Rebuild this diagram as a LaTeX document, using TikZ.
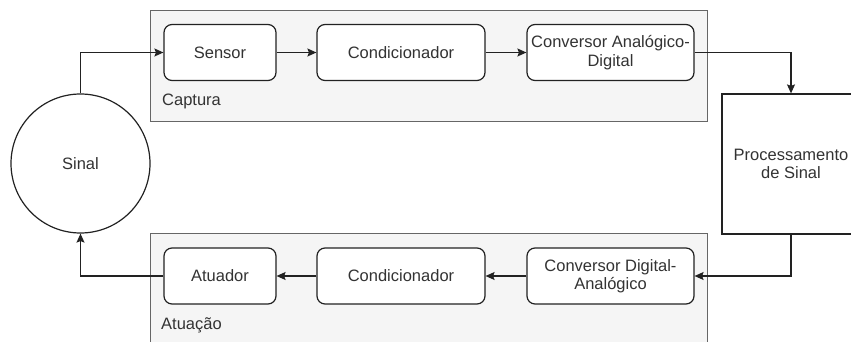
\documentclass[tikz,border=0pt]{standalone}
\usepackage{fontspec}
\setmainfont{Liberation Sans}
\usetikzlibrary{arrows.meta}
\definecolor{groupfill}{HTML}{F5F5F5}
\definecolor{groupline}{HTML}{666666}
\definecolor{inkc}{HTML}{222222}
\definecolor{textc}{HTML}{333333}
\tikzset{
  group/.style={draw=groupline, fill=groupfill, line width=1pt, inner sep=0pt},
  block/.style={draw=inkc, fill=white, rounded corners=8pt, line width=1.2pt,
    inner sep=0pt, align=center, text=textc, font=\fontsize{16.5}{18.5}\selectfont},
  plainbox/.style={draw=inkc, fill=white, line width=1.2pt, inner sep=0pt,
    align=center, text=textc, font=\fontsize{16.5}{18.5}\selectfont},
  grouplabel/.style={anchor=west, inner sep=0pt, text=textc, font=\fontsize{16.5}{18.5}\selectfont},
  link/.style={draw=inkc, line width=1.2pt, -{Stealth[length=9pt,width=8pt,inset=1.5pt]}}
}
\begin{document}
\begin{tikzpicture}[x=1pt,y=-1pt]
  \useasboundingbox (0,0) rectangle (851,342);
  \begin{scope}
    \clip (0,0) rectangle (851,342);
    % group containers
    \draw[group] (150.5,10.5) rectangle (707.5,122);
    \draw[group] (150.5,233) rectangle (707.5,350);
    % signal processing block (extends past the right edge)
    \node[plainbox, minimum width=138pt, minimum height=140pt] (proc) at (791,164)
      {Processamento\\de Sinal};
  \end{scope}

  \node[grouplabel] (captura) at (162,101) {Captura};
  \node[grouplabel] (atuacao) at (161,325) {Atuação};

  % capture chain
  \node[block, minimum width=112pt, minimum height=56pt] (sensor) at (220,52.5) {Sensor};
  \node[block, minimum width=168pt, minimum height=56pt] (cond1) at (401,52.5) {Condicionador};
  \node[block, minimum width=167pt, minimum height=56pt] (adc) at (610.5,52.5) {Conversor Analógico-\\Digital};

  % actuation chain
  \node[block, minimum width=112pt, minimum height=56pt] (atuador) at (220,276) {Atuador};
  \node[block, minimum width=168pt, minimum height=56pt] (cond2) at (401,276) {Condicionador};
  \node[block, minimum width=167pt, minimum height=56pt] (dac) at (610.5,276) {Conversor Digital-\\Analógico};

  % signal
  \node[draw=inkc, fill=white, circle, line width=1.2pt, minimum size=139pt, inner sep=0pt,
    text=textc, font=\fontsize{16.5}{18.5}\selectfont] (sinal) at (80.5,163.5) {Sinal};

  % connectors
  \draw[link] (sinal.north) |- (sensor.west);
  \draw[link] (sensor) -- (cond1);
  \draw[link] (cond1) -- (adc);
  \draw[link] (adc.east) -| (proc.north);
  \draw[link] (proc.south) |- (dac.east);
  \draw[link] (dac) -- (cond2);
  \draw[link] (cond2) -- (atuador);
  \draw[link] (atuador.west) -| (sinal.south);
\end{tikzpicture}
\end{document}
